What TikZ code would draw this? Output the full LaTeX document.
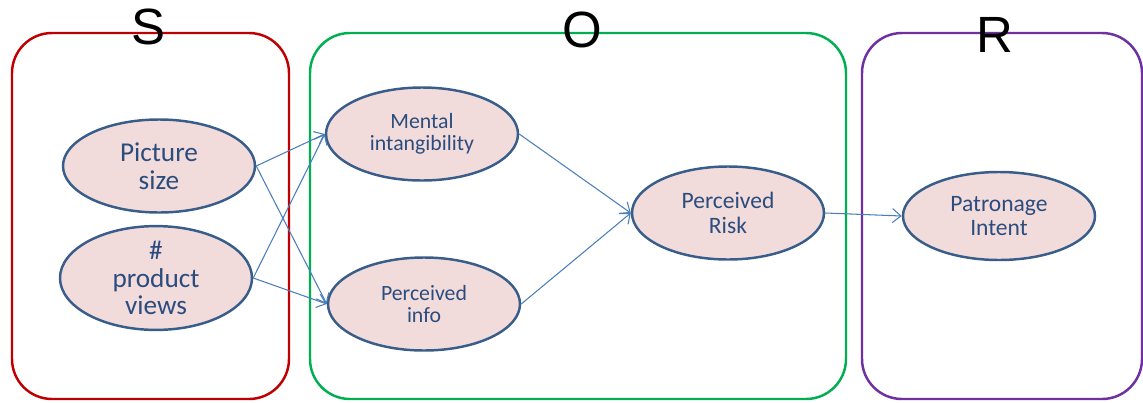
\documentclass[tikz,border=0pt]{standalone}
\usepackage{fontspec}
\setmainfont{Carlito}
\newfontfamily\letterfont{Liberation Sans}
\usetikzlibrary{arrows.meta,shapes.geometric}
\definecolor{sred}{HTML}{C00000}
\definecolor{ogreen}{HTML}{00B050}
\definecolor{rpurple}{HTML}{7030A0}
\definecolor{ellborder}{HTML}{385D8A}
\definecolor{ellfill}{HTML}{F2DCDB}
\definecolor{arrowblue}{HTML}{4A7EBB}
\definecolor{txtblue}{HTML}{2B4C7E}

\begin{document}
\begin{tikzpicture}[
  stage/.style={line width=1.4pt,rounded corners=0.8cm},
  var/.style={ellipse,draw=ellborder,fill=ellfill,line width=1.4pt,inner sep=0pt,
    minimum width=3.84cm,minimum height=1.86cm,align=center,text=txtblue},
  letter/.style={inner sep=0pt,font=\letterfont\fontsize{29}{30}\selectfont},
  link/.style={draw=arrowblue,line width=0.6pt,-{Straight Barb[length=1.7mm,width=2.8mm]}}]
  \useasboundingbox (0,0) rectangle (22.86,8.04);
  % S-O-R boxes
  \draw[stage,draw=sred] (0.24,0.06) rectangle (5.78,7.38);
  \draw[stage,draw=ogreen] (6.2,0.06) rectangle (16.92,7.38);
  \draw[stage,draw=rpurple] (17.24,0.06) rectangle (22.84,7.38);
  \node[letter] (s) at (2.96,7.5) {S};
  \node[letter] (o) at (11.64,7.44) {O};
  \node[letter] (r) at (19.9,7.34) {R};
  % variables
  \node[var,font=\fontsize{15.5}{15.8}\selectfont] (pic) at (3.18,4.72) {Picture\\size};
  \node[var,font=\fontsize{15.5}{15.6}\selectfont] (views) at (3.12,2.48) {\#\\product\\views};
  \node[var,font=\fontsize{12.4}{12.5}\selectfont] (mental) at (8.44,5.36) {Mental\\intangibility};
  \node[var,font=\fontsize{12.4}{12.5}\selectfont] (info) at (8.48,1.96) {Perceived\\info};
  \node[var,font=\fontsize{13.4}{14}\selectfont] (risk) at (14.56,3.78) {Perceived\\Risk};
  \node[var,minimum height=1.76cm,font=\fontsize{13.4}{14}\selectfont] (intent) at (19.98,3.72) {Patronage\\Intent};
  \draw[link] (pic.east) -- (mental.west);
  \draw[link] (pic.east) -- (info.west);
  \draw[link] (views.east) -- (mental.west);
  \draw[link] (views.east) -- (info.west);
  \draw[link] (mental.east) -- (risk.west);
  \draw[link] (info.east) -- (risk.west);
  \draw[link] (risk.east) -- (intent.west);
\end{tikzpicture}
\end{document}
